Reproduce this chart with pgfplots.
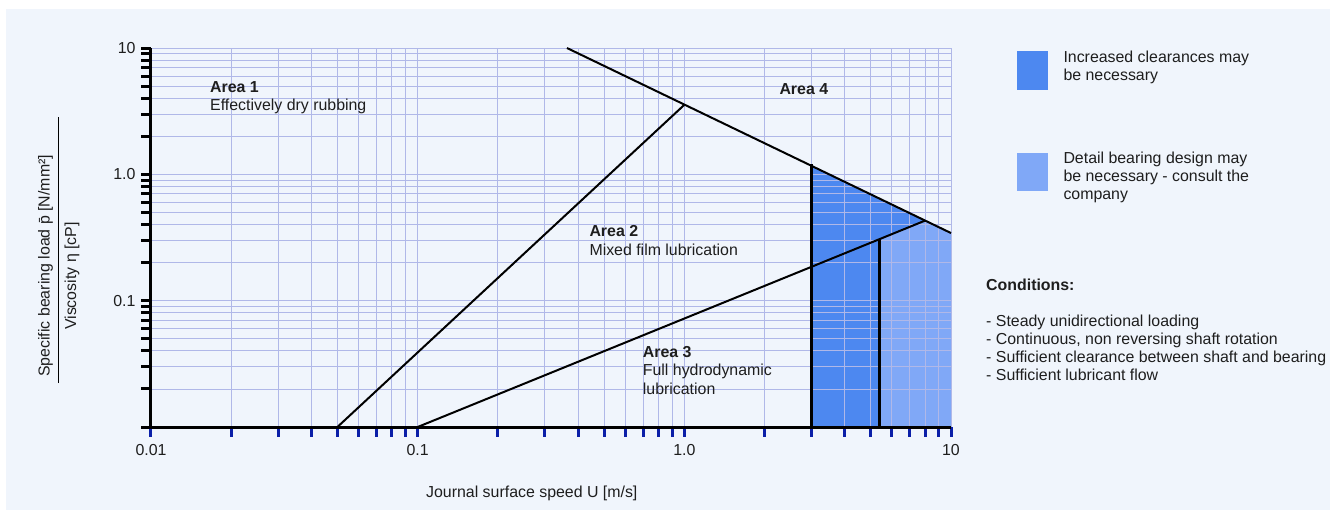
\documentclass[border=0pt]{standalone}
\usepackage{fontspec}
\setmainfont{Liberation Sans}
\usepackage{pgfplots}
\pgfplotsset{compat=1.18}
\definecolor{panel}{HTML}{F0F5FC}
\definecolor{gridc}{HTML}{B0B8E8}
\definecolor{darkfill}{HTML}{4D88F0}
\definecolor{lightfill}{HTML}{80A8F7}
\definecolor{tickblue}{HTML}{0B1FA8}
\definecolor{txt}{HTML}{1E1E1E}
\newcommand\f{\fontsize{15.9}{19}\selectfont}
\pgfplotsset{mybase/.style={
  at={(151pt,88pt)}, anchor=south west,
  scale only axis, width=800pt, height=379pt,
  xmin=0.01, xmax=10, ymin=0.01, ymax=10}}
\begin{document}
\begin{tikzpicture}[font=\f, text=txt]
\fill[white] (0pt,0pt) rectangle (1337pt,515pt);
\fill[panel] (6pt,5pt) rectangle (1330pt,506pt);
% shaded regions
\begin{loglogaxis}[mybase, hide axis]
\addplot[fill=darkfill, draw=none] coordinates {(3,0.01) (3,1.167) (8,0.4305) (5.4,0.307) (5.4,0.01)};
\addplot[fill=lightfill, draw=none] coordinates {(5.4,0.01) (5.4,0.307) (8,0.4305) (10,0.343) (10,0.01)};
\end{loglogaxis}
% grid, axes and boundary lines
\begin{loglogaxis}[mybase,
  axis x line*=bottom, axis y line*=left,
  axis line style={-, black, line width=3pt},
  xtick={0.01,0.1,1,10}, xticklabels={0.01,0.1,1.0,10},
  ytick={0.01,0.1,1,10}, yticklabels={,0.1,1.0,10},
  minor xtick={0.02,0.03,0.04,0.05,0.06,0.07,0.08,0.09,0.2,0.3,0.4,0.5,0.6,0.7,0.8,0.9,2,3,4,5,6,7,8,9},
  minor ytick={0.02,0.03,0.04,0.05,0.06,0.07,0.08,0.09,0.2,0.3,0.4,0.5,0.6,0.7,0.8,0.9,2,3,4,5,6,7,8,9},
  tick align=outside,
  major tick length=10pt, minor tick length=10pt,
  x tick style={tickblue, line width=3pt},
  y tick style={black, line width=3pt},
  grid=both,
  major grid style={gridc, line width=0.9pt},
  minor grid style={gridc, line width=0.9pt},
  tick label style={font=\f, text=txt},
  xticklabel style={yshift=-4pt},
  yticklabel style={xshift=-2pt},
  clip=false,
]
\addplot[black, line width=2pt] coordinates {(0.363,10) (10,0.343)};
\addplot[black, line width=2pt] coordinates {(0.05,0.01) (1,3.55)};
\addplot[black, line width=2pt] coordinates {(0.1,0.01) (8,0.4305)};
\addplot[black, line width=3pt] coordinates {(3,0.01) (3,1.2)};
\addplot[black, line width=3pt] coordinates {(5.4,0.01) (5.4,0.307)};
\end{loglogaxis}
\begin{scope}[x=1pt,y=1pt,every node/.style={inner sep=0pt, anchor=base west}]
% axis titles
\node at (426,17.5) {Journal surface speed U [m/s]};
\draw[black, line width=1.2pt] (58.3,132) -- (58.3,398);
\node[rotate=90] at (49.5,138) {Specific bearing load p̄ [N/mm²]};
\node[rotate=90] at (76,185) {Viscosity η [cP]};
% area labels
\node at (210,422.3) {\bfseries Area 1};
\node at (210,404.3) {Effectively dry rubbing};
\node at (779.3,420) {\bfseries Area 4};
\node at (589.3,278.3) {\bfseries Area 2};
\node at (589.3,260) {Mixed film lubrication};
\node at (642.7,157.3) {\bfseries Area 3};
\node at (642.7,139.3) {Full hydrodynamic};
\node at (642.7,120.7) {lubrication};
% legend
\fill[darkfill] (1016.7,425.3) rectangle (1047.7,464);
\fill[lightfill] (1016.7,324.3) rectangle (1047.7,362.3);
\node at (1063.3,452.3) {Increased clearances may};
\node at (1063.3,434.3) {be necessary};
\node at (1063.3,351.7) {Detail bearing design may};
\node at (1063.3,333.3) {be necessary - consult the};
\node at (1063.3,315.7) {company};
% conditions
\node at (986,225) {\bfseries Conditions:};
\node at (986,188.3) {- Steady unidirectional loading};
\node at (986,171) {- Continuous, non reversing shaft rotation};
\node at (986,152.3) {- Sufficient clearance between shaft and bearing};
\node at (986,135) {- Sufficient lubricant flow};
\end{scope}
\pgfresetboundingbox
\path[use as bounding box] (0pt,0pt) rectangle (1337pt,515pt);
\end{tikzpicture}
\end{document}
